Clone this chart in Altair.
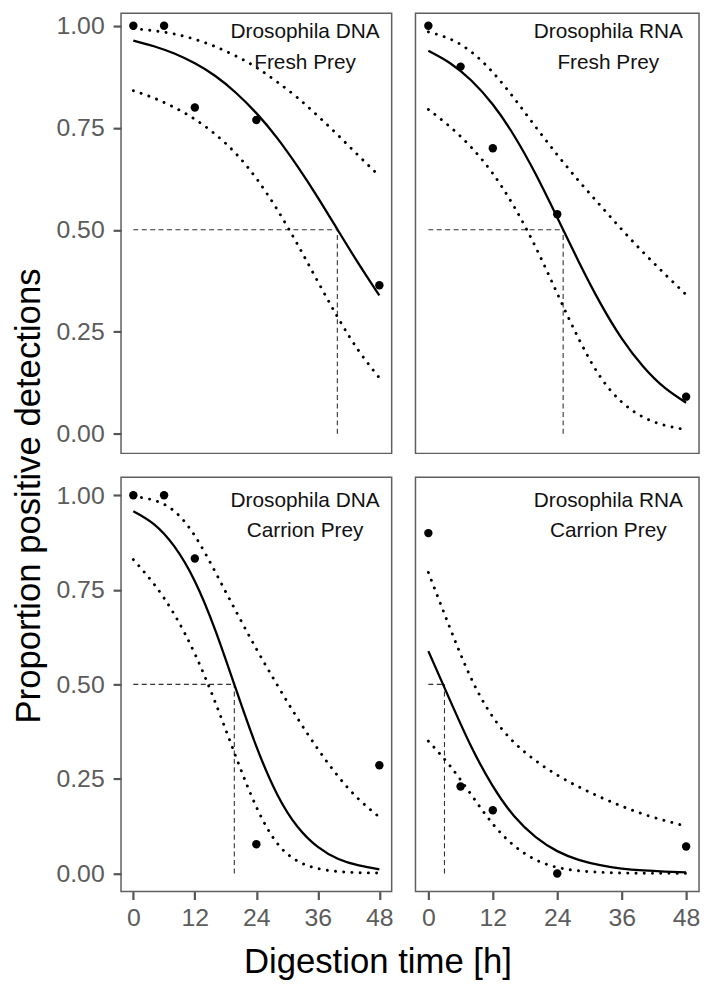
import altair as alt
import pandas as pd

# observed proportions
hours = [0, 6, 12, 24, 48]
dna_fresh = [1.0, 1.0, 0.80, 0.769, 0.364]
rna_fresh = [1.0, 0.90, 0.70, 0.538, 0.091]
dna_carrion = [1.0, 1.0, 0.833, 0.077, 0.286]
rna_carrion = [0.90, 0.23, 0.167, 0.0, 0.071]

# fitted curves with confidence bounds
curve_hours = [0, 4, 8, 12, 16, 20, 24, 28, 32, 36, 40, 44, 48]
dna_fresh_fit = [0.964, 0.950, 0.932, 0.908, 0.877, 0.836, 0.786, 0.726, 0.656, 0.579, 0.497, 0.416, 0.339]
dna_fresh_lo = [0.841, 0.823, 0.800, 0.771, 0.734, 0.687, 0.626, 0.551, 0.465, 0.373, 0.283, 0.203, 0.137]
dna_fresh_hi = [0.9935, 0.988, 0.980, 0.967, 0.949, 0.926, 0.898, 0.863, 0.824, 0.779, 0.731, 0.681, 0.632]

rna_fresh_fit = [0.939, 0.909, 0.866, 0.807, 0.730, 0.636, 0.530, 0.422, 0.321, 0.234, 0.165, 0.113, 0.076]
rna_fresh_lo = [0.795, 0.753, 0.702, 0.638, 0.556, 0.457, 0.344, 0.233, 0.140, 0.078, 0.041, 0.021, 0.010]
rna_fresh_hi = [0.985, 0.968, 0.936, 0.886, 0.822, 0.752, 0.684, 0.620, 0.560, 0.501, 0.445, 0.392, 0.341]

dna_carrion_fit = [0.958, 0.924, 0.865, 0.773, 0.643, 0.488, 0.336, 0.211, 0.124, 0.070, 0.038, 0.021, 0.011]
dna_carrion_lo = [0.830, 0.766, 0.685, 0.581, 0.452, 0.309, 0.176, 0.081, 0.033, 0.013, 0.005, 0.002, 0.001]
dna_carrion_hi = [0.997, 0.987, 0.958, 0.893, 0.797, 0.694, 0.594, 0.500, 0.411, 0.329, 0.256, 0.196, 0.149]

rna_carrion_fit = [0.588, 0.459, 0.335, 0.231, 0.151, 0.096, 0.059, 0.036, 0.022, 0.013, 0.008, 0.005, 0.003]
rna_carrion_lo = [0.350, 0.285, 0.208, 0.131, 0.073, 0.036, 0.016, 0.007, 0.003, 0.001, 0.0004, 0.0002, 0.0001]
rna_carrion_hi = [0.796, 0.650, 0.515, 0.414, 0.346, 0.298, 0.260, 0.229, 0.202, 0.178, 0.157, 0.140, 0.125]

# time to 50 % detection
ld50 = [39.8, 25.1, 19.7, 3.0]

labels = [
    ["Drosophila DNA", "Fresh Prey"],
    ["Drosophila RNA", "Fresh Prey"],
    ["Drosophila DNA", "Carrion Prey"],
    ["Drosophila RNA", "Carrion Prey"],
]
x_ticks = [0, 12, 24, 36, 48]
y_ticks = [0, 0.25, 0.5, 0.75, 1.0]

FONT = "Liberation Sans"


def panel(points, fit, lo, hi, half, label, width, height, ydom, show_x, show_y):
    pts = pd.DataFrame({"t": hours, "p": points})
    cur = pd.DataFrame({"t": curve_hours, "fit": fit, "lo": lo, "hi": hi})
    hrule = pd.DataFrame({"t": [0], "t2": [half], "p": [0.5]})
    vrule = pd.DataFrame({"t": [half], "p": [0], "p2": [0.5]})
    one = pd.DataFrame({"k": [0]})

    xs = alt.Scale(domain=[-2.4, 50.4], nice=False, zero=False)
    ys = alt.Scale(domain=ydom, nice=False, zero=False)
    if show_x:
        xa = alt.Axis(values=x_ticks, title=None, labelFlush=False, labelPadding=6,
                      format="d")
    else:
        xa = None
    if show_y:
        ya = alt.Axis(values=y_ticks, title=None, format=".2f", labelPadding=9)
    else:
        ya = None

    def X(f):
        return alt.X(f, type="quantitative", scale=xs, axis=xa)

    def Y(f):
        return alt.Y(f, type="quantitative", scale=ys, axis=ya)

    fit_line = alt.Chart(cur).mark_line(
        color="black", strokeWidth=2.3, interpolate="natural"
    ).encode(x=X("t"), y=Y("fit"))
    dot = dict(color="black", strokeWidth=2.9, strokeDash=[0.1, 8.2],
               strokeCap="round", interpolate="natural")
    lo_line = alt.Chart(cur).mark_line(**dot).encode(x=X("t"), y=Y("lo"))
    hi_line = alt.Chart(cur).mark_line(**dot).encode(x=X("t"), y=Y("hi"))
    h = alt.Chart(hrule).mark_rule(color="#333333", strokeWidth=1.1, strokeDash=[5, 3.5]).encode(
        x=X("t"), x2="t2:Q", y=Y("p"))
    v = alt.Chart(vrule).mark_rule(color="#333333", strokeWidth=1.1, strokeDash=[5, 3.5]).encode(
        x=X("t"), y=Y("p"), y2="p2:Q")
    dots = alt.Chart(pts).mark_circle(color="black", size=72, opacity=1).encode(
        x=X("t"), y=Y("p"))
    txt = alt.Chart(one).mark_text(
        text=label, font=FONT, fontSize=21, fontWeight="normal", color="#111111",
        align="center", baseline="alphabetic", lineHeight=31
    ).encode(x=alt.datum(33.5, type="quantitative", scale=xs, axis=xa),
             y=alt.datum(0.97, type="quantitative", scale=ys, axis=ya))
    return alt.layer(h, v, lo_line, hi_line, fit_line, dots, txt).properties(
        width=width, height=height)


top_dom = [-0.048, 1.031]
bot_dom = [-0.048, 1.048]

p1 = panel(dna_fresh, dna_fresh_fit, dna_fresh_lo, dna_fresh_hi, ld50[0], labels[0],
           273, 444, top_dom, False, True)
p2 = panel(rna_fresh, rna_fresh_fit, rna_fresh_lo, rna_fresh_hi, ld50[1], labels[1],
           286, 444, top_dom, False, False)
p3 = panel(dna_carrion, dna_carrion_fit, dna_carrion_lo, dna_carrion_hi, ld50[2], labels[2],
           273, 418, bot_dom, True, True)
p4 = panel(rna_carrion, rna_carrion_fit, rna_carrion_lo, rna_carrion_hi, ld50[3], labels[3],
           286, 418, bot_dom, True, False)

grid = alt.concat(p1, p2, p3, p4, columns=2, spacing=24, bounds="flush")

with_x = alt.vconcat(grid, title=alt.TitleParams(
    "Digestion time [h]", orient="bottom", anchor="middle", fontSize=35,
    font=FONT, fontWeight="normal", color="black", offset=14))

chart = alt.hconcat(with_x, title=alt.TitleParams(
    "Proportion positive detections", orient="left", anchor="middle", fontSize=35,
    font=FONT, fontWeight="normal", color="black", offset=8)).properties(
    padding={"left": 4, "top": 0, "right": 0, "bottom": 0}
).configure_view(
    stroke="#5f5f5f", strokeWidth=1.5
).configure_axis(
    grid=False, domain=False, labelFont=FONT, labelFontSize=25, labelColor="#5c5c5c",
    tickColor="#555555", tickWidth=2.2, tickSize=8
)

chart.save("out.html", embed_options={"renderer": "svg", "actions": False})
